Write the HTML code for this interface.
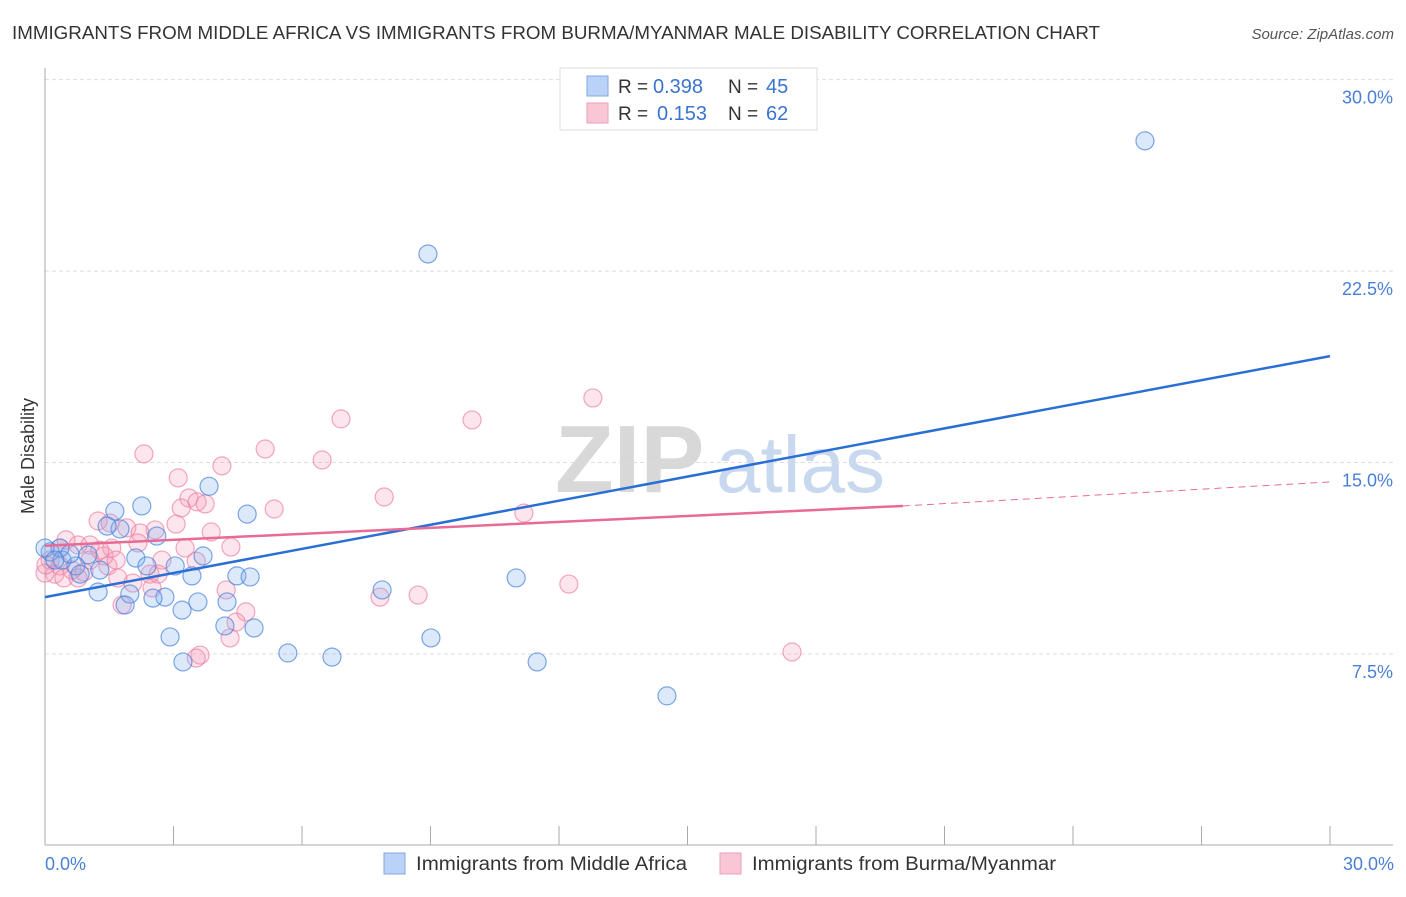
<!DOCTYPE html>
<html><head><meta charset="utf-8"><style>
body{margin:0;background:#fff;font-family:"Liberation Sans",sans-serif;}
svg text{font-family:"Liberation Sans",sans-serif;}
</style></head><body>
<svg width="1406" height="892" viewBox="0 0 1406 892" xmlns="http://www.w3.org/2000/svg">
<text x="12" y="39" font-size="18.5" fill="#333" textLength="1088" lengthAdjust="spacingAndGlyphs">IMMIGRANTS FROM MIDDLE AFRICA VS IMMIGRANTS FROM BURMA/MYANMAR MALE DISABILITY CORRELATION CHART</text>
<text x="1394" y="39" font-size="15" fill="#555" font-style="italic" text-anchor="end">Source: ZipAtlas.com</text>
<g>
<text x="555" y="492" font-size="96" fill="#d8d8d8" font-family="Liberation Serif, serif" font-weight="bold">ZIP</text>
<text x="716" y="492" font-size="80" fill="#c8d8ef">atlas</text>
</g>
<g id="grid"></g>
<g id="axes"></g>
<text transform="translate(34,456) rotate(-90)" font-size="18" fill="#333" text-anchor="middle">Male Disability</text>
<text x="45" y="870" font-size="18" fill="#4a7fd6">0.0%</text>
<text x="1394" y="870" font-size="18" fill="#4a7fd6" text-anchor="end">30.0%</text>
<g id="points"></g>
<g id="lines"></g>
<g>
<rect x="560" y="68" width="257" height="62" fill="#fff" stroke="#ddd"/>
<rect x="587" y="76" width="21" height="20" fill="#b9d2f6" stroke="#7fa8e6"/>
<rect x="587" y="103" width="21" height="20" fill="#f9c6d5" stroke="#ee9fb7"/>
<text x="618" y="93" font-size="19" fill="#333">R =</text>
<text x="653" y="93" font-size="20" fill="#3a74d0">0.398</text>
<text x="728" y="93" font-size="19" fill="#333">N =</text>
<text x="766" y="93" font-size="20" fill="#3a74d0">45</text>
<text x="618" y="120" font-size="19" fill="#333">R =</text>
<text x="657" y="120" font-size="20" fill="#3a74d0">0.153</text>
<text x="728" y="120" font-size="19" fill="#333">N =</text>
<text x="766" y="120" font-size="20" fill="#3a74d0">62</text>
</g>
<g>
<rect x="384" y="853" width="21" height="21" fill="#b9d2f6" stroke="#7fa8e6"/>
<text x="416" y="870" font-size="19" fill="#333" textLength="271" lengthAdjust="spacingAndGlyphs">Immigrants from Middle Africa</text>
<rect x="720" y="853" width="21" height="21" fill="#f9c6d5" stroke="#ee9fb7"/>
<text x="752" y="870" font-size="19" fill="#333" textLength="304" lengthAdjust="spacingAndGlyphs">Immigrants from Burma/Myanmar</text>
</g>
</svg>
<script>
const blueX=[25.68,8.94,3.83,2.26,1.63,4.72,1.75,2.61,1.45,0.35,0.12,1.00,2.12,3.69,3.04,0.72,2.38,0.82,3.43,4.48,4.79,11.00,1.24,1.98,2.80,2.52,7.87,4.25,3.57,3.20,1.87,4.20,4.88,2.92,9.01,5.67,6.70,3.22,11.49,14.52,0.00,0.40,0.58,0.23,1.28];
const blueY=[27.60,23.17,14.07,13.30,13.10,12.98,12.40,12.12,12.51,11.65,11.50,11.38,11.26,11.34,10.95,10.95,10.95,10.63,10.56,10.56,10.52,10.48,9.93,9.85,9.73,9.69,10.01,9.54,9.54,9.22,9.42,8.60,8.52,8.17,8.13,7.54,7.38,7.19,7.19,5.86,11.65,11.18,11.42,11.18,10.79];
const pinkX=[12.79,6.91,9.97,5.14,2.31,6.47,4.13,3.11,7.92,3.36,3.55,3.74,5.35,11.18,3.18,1.24,1.52,1.91,2.57,3.06,2.22,3.88,2.17,4.34,3.27,0.49,0.77,1.05,1.56,2.73,3.53,1.38,0.12,0.35,0.63,0.91,1.47,2.45,1.70,2.05,2.64,0.23,0.00,0.44,0.77,12.23,4.23,2.50,7.82,8.71,4.69,1.80,4.46,4.32,3.62,3.53,17.44,0.02,1.05,1.66,0.35,1.28];
const pinkY=[17.53,16.71,16.67,15.53,15.34,15.10,14.87,14.40,13.65,13.61,13.46,13.38,13.18,13.02,13.22,12.71,12.63,12.44,12.36,12.59,12.24,12.28,11.85,11.69,11.65,11.97,11.77,11.77,11.65,11.18,11.14,11.34,11.18,10.95,10.79,10.71,10.95,10.63,10.48,10.28,10.63,10.63,10.67,10.48,10.48,10.24,10.01,10.09,9.73,9.81,9.15,9.42,8.75,8.13,7.46,7.34,7.58,10.99,11.18,11.18,11.65,11.57];
const yTicks=[7.5,15,22.5,30];
const xTicks=[0,3,6,9,12,15,18,21,24,27,30];
const blueTrend=[9.73,19.17];
const pinkTrend=[11.74,13.30,14.24];
const pinkSolidEnd=20.03;
const NS='http://www.w3.org/2000/svg';
const sx=v=>45+v/30*1285;
const sy=v=>845.5-v*25.53;
function mk(t,a,p){const e=document.createElementNS(NS,t);for(const k in a)e.setAttribute(k,a[k]);p.appendChild(e);return e;}
const grid=document.getElementById('grid');
yTicks.forEach(t=>{
 const l=mk('line',{x1:45,x2:1393,y1:sy(t),y2:sy(t),stroke:'#ddd','stroke-dasharray':'4,3'},grid);
 
 
 const tx=mk('text',{x:1393,y:sy(t)+24,'font-size':18,fill:'#4a7fd6','text-anchor':'end'},grid);
 tx.textContent=t.toFixed(1)+'%';
 
 
});
const axes=document.getElementById('axes');
mk('line',{x1:45,x2:45,y1:68,y2:845,stroke:'#aaa'},axes);
mk('line',{x1:45,x2:1393,y1:845,y2:845,stroke:'#aaa'},axes);
xTicks.forEach(t=>{
 const l=mk('line',{x1:sx(t),x2:sx(t),y1:826,y2:845,stroke:'#aaa'},axes);
 
 
});
const pts=document.getElementById('points');
pinkX.forEach((x,i)=>{
 const c=mk('circle',{cx:sx(x),cy:sy(pinkY[i]),r:9,fill:'rgba(244,150,180,0.25)',stroke:'rgba(236,130,165,0.7)','stroke-width':1.2},pts);
 
 
});
blueX.forEach((x,i)=>{
 const c=mk('circle',{cx:sx(x),cy:sy(blueY[i]),r:9,fill:'rgba(130,175,240,0.28)',stroke:'rgba(70,130,220,0.7)','stroke-width':1.2},pts);
 
 
});
const lines=document.getElementById('lines');
const bl=mk('line',{x1:sx(0),y1:sy(blueTrend[0]),x2:sx(30),y2:sy(blueTrend[1]),stroke:'#2a6fd6','stroke-width':2.5},lines);


const pl=mk('line',{x1:sx(0),y1:sy(pinkTrend[0]),x2:sx(pinkSolidEnd),y2:sy(pinkTrend[1]),stroke:'#e86a96','stroke-width':2.5},lines);


const pd=mk('line',{x1:sx(pinkSolidEnd),y1:sy(pinkTrend[1]),x2:sx(30),y2:sy(pinkTrend[2]),stroke:'#e86a96','stroke-width':1,'stroke-dasharray':'7,5'},lines);


</script>
</body></html>
